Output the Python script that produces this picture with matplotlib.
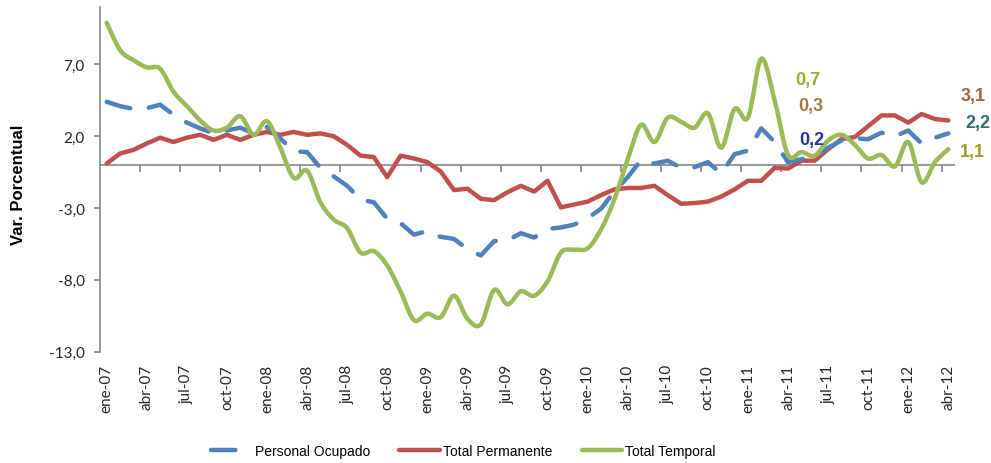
import numpy as np
import matplotlib
matplotlib.use('Agg')
import matplotlib.pyplot as plt

# ---------------- data ----------------
meses = ['ene', 'feb', 'mar', 'abr', 'may', 'jun', 'jul', 'ago', 'sep', 'oct', 'nov', 'dic']
anios = ['07', '08', '09', '10', '11', '12']
categorias = [f"{m}-{a}" for a in anios for m in meses][:64]   # ene-07 ... abr-12

personal_ocupado = [4.4, 4.1, 3.9, 3.95, 4.2, 3.5, 2.95, 2.55, 2.2, 2.4, 2.6, 2.2,
                    2.65, 1.85, 0.95, 0.9, -0.2, -0.8, -1.45, -2.4, -2.6, -3.75, -4.05, -4.85,
                    -4.6, -5.0, -5.15, -5.85, -6.3, -5.3, -5.25, -4.75, -5.05, -4.45, -4.35, -4.15,
                    -3.7, -3.05, -1.85, -0.85, 0.35, 0.1, 0.3, -0.2, -0.15, 0.2, -0.6, 0.75,
                    1.0, 2.55, 1.6, 0.2, 0.4, 0.6, 1.2, 1.7, 1.85, 1.8, 2.25, 2.0,
                    2.4, 1.5, 1.9, 2.2]

total_permanente = [0.1, 0.8, 1.05, 1.5, 1.9, 1.6, 1.9, 2.1, 1.75, 2.1, 1.75, 2.1,
                    2.3, 2.1, 2.3, 2.1, 2.2, 2.0, 1.4, 0.65, 0.55, -0.85, 0.65, 0.45,
                    0.2, -0.45, -1.75, -1.65, -2.35, -2.45, -1.9, -1.45, -1.85, -1.1, -2.95, -2.75,
                    -2.55, -2.1, -1.7, -1.6, -1.6, -1.45, -2.1, -2.7, -2.65, -2.55, -2.2, -1.7,
                    -1.1, -1.1, -0.2, -0.25, 0.3, 0.3, 1.1, 1.8, 1.95, 2.7, 3.45, 3.45,
                    2.95, 3.55, 3.2, 3.1]

total_temporal = [9.9, 8.0, 7.3, 6.8, 6.7, 5.1, 4.1, 3.1, 2.4, 2.6, 3.4, 2.1,
                  3.05, 1.2, -0.9, -0.4, -2.6, -3.8, -4.4, -6.1, -6.0, -7.0, -8.8, -10.8,
                  -10.35, -10.6, -9.1, -10.7, -11.1, -8.7, -9.7, -8.8, -9.1, -8.1, -6.1, -5.9,
                  -5.8, -4.5, -2.4, 0.4, 2.8, 1.6, 3.3, 3.0, 2.6, 3.6, 1.2, 3.9,
                  3.3, 7.4, 4.5, 0.7, 0.9, 0.65, 1.7, 2.1, 1.4, 0.45, 0.7, -0.1,
                  1.6, -1.2, 0.2, 1.1]

y_ticks = [-13, -8, -3, 2, 7]
series_names = ['Personal Ocupado', 'Total Permanente', 'Total Temporal']
etiquetas_abr11 = ['0,7', '0,3', '0,2']
etiquetas_abr12 = ['3,1', '2,2', '1,1']

# ---------------- styling ----------------
C_BLUE = '#4F81BD'
C_RED = '#C0504D'
C_GREEN = '#9BBB59'
GRAY = '#868686'


def smooth(xs, ys, n=24):
    """Catmull-Rom smoothing (like Excel's smoothed line)."""
    xs = np.asarray(xs, float)
    ys = np.asarray(ys, float)
    px = np.concatenate([[2 * xs[0] - xs[1]], xs, [2 * xs[-1] - xs[-2]]])
    py = np.concatenate([[2 * ys[0] - ys[1]], ys, [2 * ys[-1] - ys[-2]]])
    ox, oy = [], []
    t = np.linspace(0, 1, n, endpoint=False)
    for i in range(1, len(px) - 2):
        for arr, out in ((px, ox), (py, oy)):
            p0, p1, p2, p3 = arr[i - 1], arr[i], arr[i + 1], arr[i + 2]
            out.extend(0.5 * ((2 * p1) + (-p0 + p2) * t +
                              (2 * p0 - 5 * p1 + 4 * p2 - p3) * t ** 2 +
                              (-p0 + 3 * p1 - 3 * p2 + p3) * t ** 3))
    ox.append(xs[-1])
    oy.append(ys[-1])
    return np.array(ox), np.array(oy)


W, H = 991, 464
fig = plt.figure(figsize=(W / 100, H / 100), dpi=100)
ax_left, ax_right, ax_top, ax_bottom = 100, 955, 8, 352.7
ax = fig.add_axes([ax_left / W, 1 - ax_bottom / H, (ax_right - ax_left) / W, (ax_bottom - ax_top) / H])

x = np.arange(len(categorias))

ax.axhline(0, color=GRAY, lw=1.2, zorder=1)

l_blue, = ax.plot(x, personal_ocupado, color=C_BLUE, lw=3.2, dashes=(5.5, 4.2),
                  dash_capstyle='round', solid_capstyle='round', label=series_names[0], zorder=3)
l_red, = ax.plot(x, total_permanente, color=C_RED, lw=3.2, solid_joinstyle='round',
                 solid_capstyle='round', label=series_names[1], zorder=2)
gx, gy = smooth(x, total_temporal)
l_green, = ax.plot(gx, gy, color=C_GREEN, lw=3.2, solid_capstyle='round',
                   label=series_names[2], zorder=4)

ax.set_xlim(-0.5, len(categorias) - 0.5)
ax.set_ylim(-13, 11)

# y axis
ax.set_yticks(y_ticks)
ax.set_yticklabels([f"{v:.1f}".replace('.', ',') for v in y_ticks],
                   fontfamily='Lato', fontsize=11, color='#262626')
ax.tick_params(axis='y', length=4, width=1.2, color=GRAY, pad=7)
ax.spines['left'].set_color(GRAY)
ax.spines['left'].set_linewidth(1.2)
for s in ('top', 'right', 'bottom'):
    ax.spines[s].set_visible(False)

# x axis labels at bottom
ax.set_xticks(x[::3])
ax.set_xticklabels(categorias[::3], rotation=90, fontfamily='Lato', fontsize=11, color='#262626')
ax.tick_params(axis='x', length=0, pad=9)

# tick marks on the zero line
sec = ax.secondary_xaxis(0, transform=ax.transData)
sec.set_xticks(np.arange(2.5, len(categorias) - 1, 3))
sec.tick_params(axis='x', length=5, width=1.2, color=GRAY, labelbottom=False)
sec.spines['bottom'].set_visible(False)

ax.set_ylabel('Var. Porcentual', fontfamily='Liberation Sans', fontweight='bold', fontsize=12)
ax.yaxis.label.set_va('center')
ax.yaxis.set_label_coords((18 - ax_left) / (ax_right - ax_left), (ax_bottom - 185) / (ax_bottom - ax_top))

# value annotations
ann_font = dict(fontfamily='Liberation Sans', fontweight='bold', fontsize=13, ha='center', va='center')
for txt, px, py, c in zip(etiquetas_abr11, [808, 811, 812], [80, 107, 140],
                          ['#9AAA3A', '#A67A42', '#2E3192']):
    fig.text(px / W, 1 - py / H, txt, color=c, **ann_font)
for txt, px, py, c in zip(etiquetas_abr12, [973, 978, 972], [97, 124, 152],
                          ['#A0653C', '#2F6E6A', '#9A9E2E']):
    fig.text(px / W, 1 - py / H, txt, color=c, **ann_font)

fig.legend(handles=[l_blue, l_red, l_green], labels=series_names, loc='center',
           bbox_to_anchor=(463.5 / W, 1 - 452 / H), ncol=3, frameon=False,
           prop=dict(family='Liberation Sans', size=10), handlelength=2.9,
           handletextpad=0.25, columnspacing=2.1)

fig.savefig('out.png', dpi=100)
